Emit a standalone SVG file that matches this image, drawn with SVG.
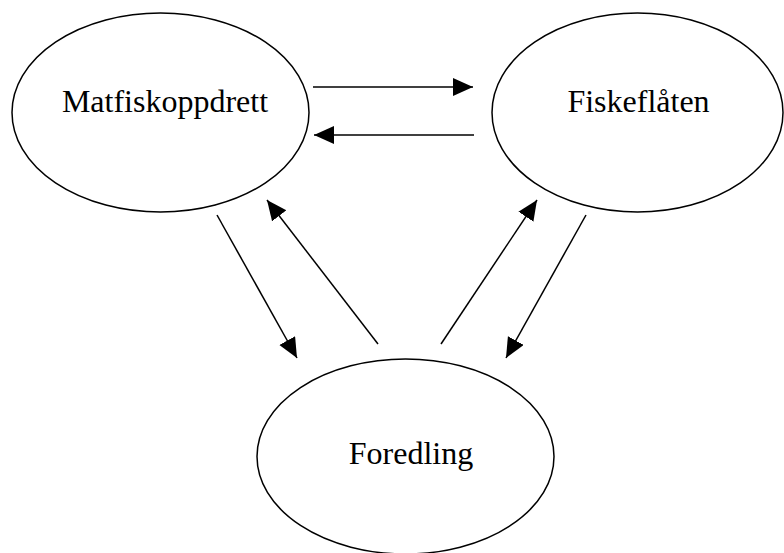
<svg xmlns="http://www.w3.org/2000/svg" width="784" height="553" viewBox="0 0 784 553">
<style>
.node ellipse{fill:#fff;stroke:#000;stroke-width:1.5}
.node text{font-family:"Liberation Serif","Times New Roman",serif;font-size:32px;fill:#000;text-anchor:middle}
.edges line{stroke:#000;stroke-width:1.5;marker-end:url(#ah)}
</style>
<defs>
<marker id="ah" markerUnits="userSpaceOnUse" markerWidth="21" markerHeight="19" refX="20" refY="9" orient="auto">
<path d="M0,0 L20,9 L0,18 Z" fill="#000"/>
</marker>
</defs>
<rect width="784" height="553" fill="#fff"/>
<g id="matfiskoppdrett" class="node">
<ellipse cx="160.5" cy="112.5" rx="148.5" ry="99.5"/>
<text x="165" y="112">Matfiskoppdrett</text>
</g>
<g id="fiskeflaten" class="node">
<ellipse cx="637.5" cy="112.5" rx="145.5" ry="99.5"/>
<text x="638.5" y="112">Fiskeflåten</text>
</g>
<g id="foredling" class="node">
<ellipse cx="405.5" cy="456.5" rx="148.5" ry="97.5"/>
<text x="411" y="464">Foredling</text>
</g>
<g id="connectors" class="edges">
<line x1="313" y1="87" x2="473" y2="87"/>
<line x1="474" y1="135" x2="314" y2="135"/>
<line x1="217" y1="215" x2="297" y2="358"/>
<line x1="378" y1="344" x2="267" y2="200"/>
<line x1="441" y1="344" x2="537" y2="200"/>
<line x1="586" y1="215" x2="506" y2="358"/>
</g>
</svg>
